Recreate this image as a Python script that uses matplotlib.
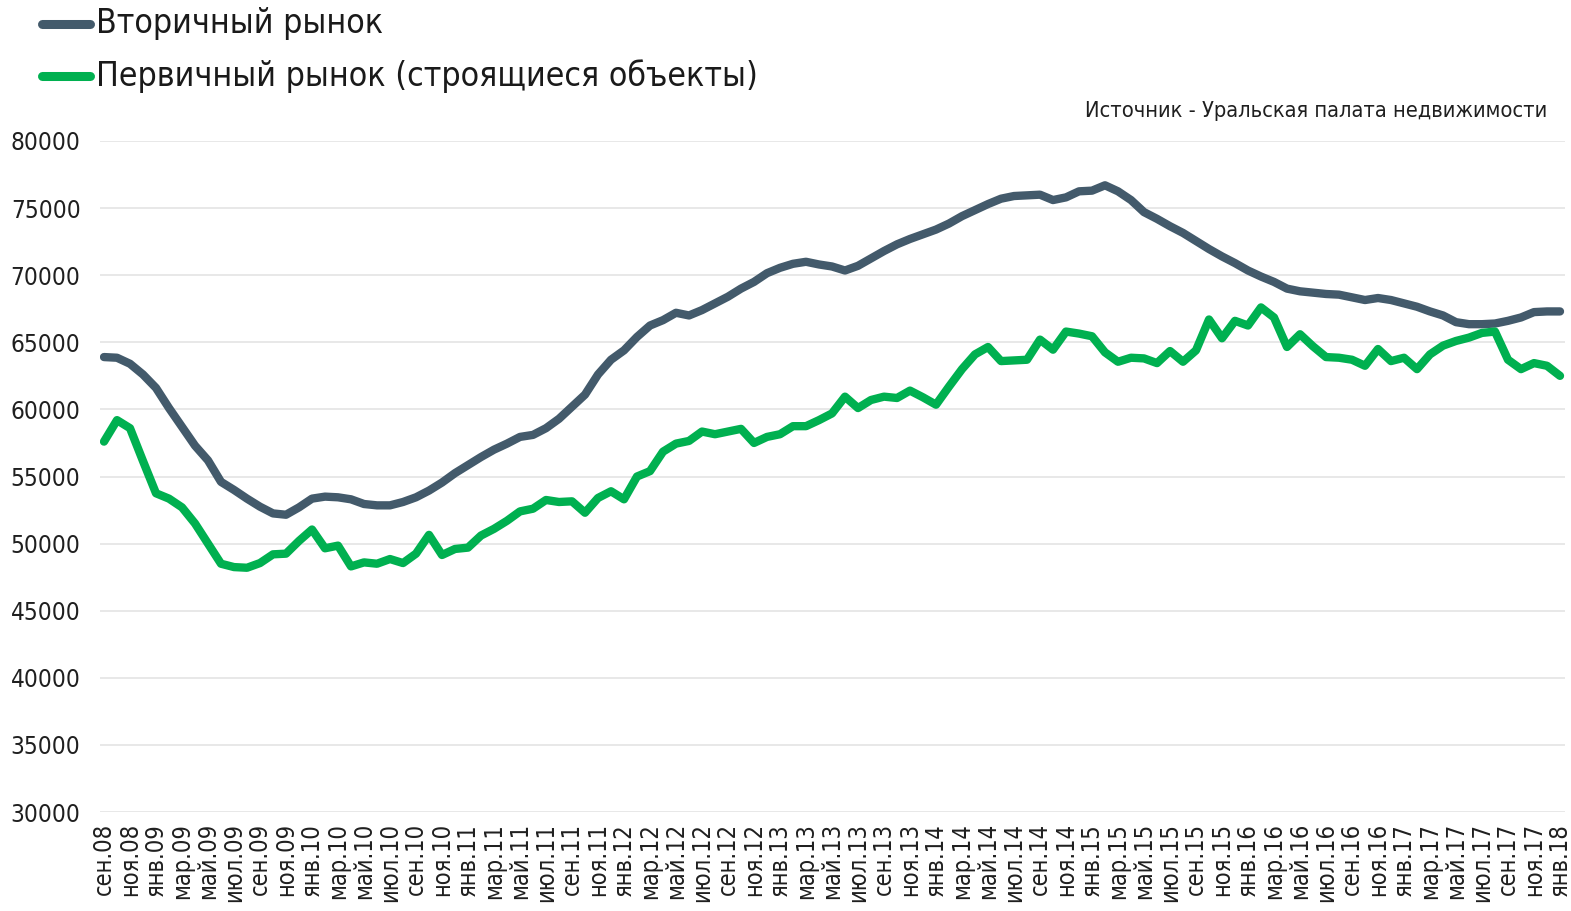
import matplotlib
matplotlib.use("Agg")
import matplotlib.pyplot as plt
from matplotlib.lines import Line2D

# ---------------- data ----------------
series_names = ["Вторичный рынок", "Первичный рынок (строящиеся объекты)"]

secondary = [
    63900, 63850, 63400, 62600, 61600, 60100, 58700, 57300, 56200, 54600,
    54000, 53350, 52750, 52250, 52150, 52700, 53350, 53500, 53450, 53300,
    52950, 52850, 52850, 53100, 53450, 53950, 54550, 55250, 55850, 56450,
    57000, 57450, 57950, 58100, 58600, 59300, 60200, 61100, 62600, 63700,
    64400, 65400, 66250, 66650, 67200, 67000, 67400, 67900, 68400, 69000,
    69500, 70150, 70550, 70850, 71000, 70800, 70650, 70350, 70700, 71250,
    71800, 72300, 72700, 73050, 73400, 73850, 74400, 74850, 75300, 75700,
    75900, 75950, 76000, 75600, 75800, 76250, 76300, 76700, 76250, 75600,
    74700, 74200, 73650, 73150, 72550, 71950, 71400, 70900, 70350, 69900,
    69500, 69000, 68800, 68700, 68600, 68550, 68350, 68150, 68300, 68150,
    67900, 67650, 67300, 67000, 66500, 66350, 66350, 66400, 66600, 66850,
    67250, 67300, 67300,
]

primary = [
    57600, 59200, 58600, 56150, 53750, 53350, 52700, 51500, 50000, 48500,
    48250, 48200, 48550, 49200, 49250, 50200, 51050, 49650, 49850, 48300,
    48600, 48500, 48850, 48550, 49250, 50650, 49150, 49600, 49700, 50600,
    51100, 51700, 52400, 52600, 53250, 53100, 53150, 52300, 53400, 53900,
    53300, 55000, 55400, 56850, 57450, 57650, 58350, 58150, 58350, 58550,
    57500, 57950, 58150, 58750, 58750, 59200, 59700, 60950, 60100, 60700,
    60950, 60850, 61400, 60900, 60350, 61700, 63000, 64100, 64650, 63600,
    63650, 63700, 65200, 64450, 65800, 65650, 65450, 64250, 63550, 63850,
    63800, 63450, 64350, 63550, 64400, 66700, 65300, 66600, 66250, 67600,
    66850, 64650, 65600, 64700, 63900, 63850, 63700, 63250, 64500, 63600,
    63850, 63000, 64100, 64750, 65100, 65350, 65700, 65800, 63700, 63000,
    63450, 63250, 62500,
]

tick_labels = [
    "сен.08", "ноя.08", "янв.09", "мар.09", "май.09", "июл.09", "сен.09", "ноя.09",
    "янв.10", "мар.10", "май.10", "июл.10", "сен.10", "ноя.10",
    "янв.11", "мар.11", "май.11", "июл.11", "сен.11", "ноя.11",
    "янв.12", "мар.12", "май.12", "июл.12", "сен.12", "ноя.12",
    "янв.13", "мар.13", "май.13", "июл.13", "сен.13", "ноя.13",
    "янв.14", "мар.14", "май.14", "июл.14", "сен.14", "ноя.14",
    "янв.15", "мар.15", "май.15", "июл.15", "сен.15", "ноя.15",
    "янв.16", "мар.16", "май.16", "июл.16", "сен.16", "ноя.16",
    "янв.17", "мар.17", "май.17", "июл.17", "сен.17", "ноя.17",
    "янв.18",
]
y_ticks = [30000, 35000, 40000, 45000, 50000, 55000, 60000, 65000, 70000, 75000, 80000]
source_text = "Источник - Уральская палата недвижимости"

# ---------------- style ----------------
C_SEC = "#435A6B"
C_PRI = "#00B050"
FONT = dict(family="DejaVu Sans", stretch="condensed")

W, H = 1571, 911
fig = plt.figure(figsize=(W / 100, H / 100), dpi=100)
fig.patch.set_facecolor("white")

ax_l, ax_r, ax_t, ax_b = 100, 1565, 141, 812
ax = fig.add_axes([ax_l / W, 1 - ax_b / H, (ax_r - ax_l) / W, (ax_b - ax_t) / H])

x = list(range(len(secondary)))
lw = 6.0
ax.plot(x, secondary, color=C_SEC, lw=lw, solid_capstyle="round",
        solid_joinstyle="round", zorder=3)
ax.plot(x, primary, color=C_PRI, lw=lw, solid_capstyle="round",
        solid_joinstyle="round", zorder=4)

n = len(secondary)
ax.set_xlim(-4 / 13, (n - 1) + 5 / 13)
ax.set_ylim(30000, 80000)
ax.set_yticks(y_ticks)
ax.set_yticklabels([str(v) for v in y_ticks], fontsize=17.5, color="#1F1F1F", **FONT)
ax.set_xticks(list(range(0, n, 2)))
ax.set_xticklabels(tick_labels, rotation=90, fontsize=17, color="#1F1F1F",
                   va="top", ha="center", **FONT)
ax.tick_params(axis="both", length=0)
ax.tick_params(axis="y", pad=14)
ax.tick_params(axis="x", pad=8)
ax.grid(axis="y", color="#E6E6E6", lw=1.3, zorder=0)
ax.set_axisbelow(True)
for s in ax.spines.values():
    s.set_visible(False)

# legend (manual, top-left)
for yy, col, name in [(24, C_SEC, series_names[0]), (76, C_PRI, series_names[1])]:
    fig.add_artist(Line2D([42 / W, 90 / W], [1 - yy / H, 1 - yy / H], color=col,
                          lw=6.5, solid_capstyle="round", transform=fig.transFigure))
    fig.text(96 / W, 1 - yy / H, name, fontsize=24.3, color="#1A1A1A",
             ha="left", va="center", **FONT)

fig.text(1547 / W, 1 - 111 / H, source_text, fontsize=15.7, color="#1F1F1F",
         ha="right", va="center", **FONT)

fig.savefig("out.png", dpi=100, facecolor="white")
